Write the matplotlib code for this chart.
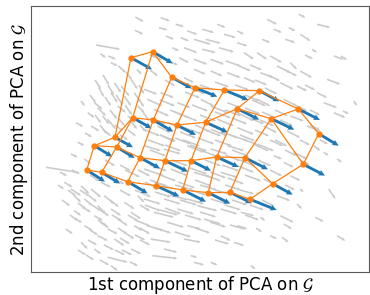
import matplotlib
matplotlib.use("Agg")
import matplotlib.pyplot as plt
import numpy as np

# ---------------- data (picture units, y grows downward) ----------------
# orange lattice nodes: 4 rows (bottom -> top) x 8 columns (left -> right)
grid_x = [
    [86.7, 101.7, 127.7, 156.0, 182.7, 208.3, 230.0, 250.0],
    [94.3, 116.7, 140.0, 165.0, 191.0, 216.7, 245.0, 272.7],
    [115.0, 132.7, 153.3, 177.0, 205.7, 237.3, 271.3, 303.3],
    [131.0, 152.7, 171.7, 195.0, 224.3, 259.3, 298.3, 318.7],
]
grid_y = [
    [170.0, 172.3, 181.7, 185.7, 190.0, 192.7, 192.3, 199.3],
    [145.7, 147.0, 157.7, 160.7, 160.7, 157.0, 157.7, 183.7],
    [137.3, 117.7, 120.0, 125.0, 122.3, 108.7, 118.7, 164.3],
    [57.7, 51.7, 77.3, 87.7, 90.0, 90.7, 109.0, 133.7],
]
# blue vectors attached to each node
node_u = [
    [18.3, 18.3, 20.0, 23.3, 23.3, 22.0, 22.0, 26.7],
    [18.0, 18.0, 20.0, 23.0, 20.0, 22.0, 23.0, 20.0],
    [18.0, 19.0, 20.0, 19.0, 22.0, 22.0, 23.0, 21.7],
    [21.0, 20.0, 20.0, 22.3, 24.0, 20.0, 21.7, 20.0],
]
node_v = [
    [11.7, 11.3, 11.7, 10.7, 11.7, 11.0, 11.0, 10.7],
    [11.0, 11.0, 10.7, 11.0, 10.0, 10.0, 11.7, 11.0],
    [10.0, 10.7, 11.7, 10.0, 10.0, 11.0, 11.0, 11.3],
    [11.7, 11.7, 11.0, 9.0, 10.0, 10.7, 11.0, 12.0],
]

# grey background vector field (positions and vectors), read region by region
field_x = [
    96.0, 100.3, 108.3, 135.3, 135.0, 111.0, 118.3, 137.0, 81.0, 76.0,
    94.3, 97.7, 102.7, 107.7, 114.3, 111.0, 121.0, 124.3, 117.7, 131.0,
    134.3, 137.7, 91.0, 102.7, 87.7, 127.7, 90, 99, 105, 115, 120, 85, 128, 140, 139, 126,
    160.7, 175.7, 159.0, 187.3, 202.3, 217.3, 224.0, 237.3, 165.7, 180.7,
    194.0, 205.7, 184.0, 202.3, 219.0, 237.3, 244.0, 172.3, 179.0, 194.0,
    210.7, 225.7, 239.0, 194.0, 210.7, 227.3, 244.0, 184.0, 144.0, 147.3,
    160.7, 154.0, 177.3, 200.7, 210.7, 227.3, 237.3, 217.3, 184.0, 157.3,
    210.7, 237.3, 150, 165, 170, 190, 195, 225, 245, 160, 180, 230, 250,
    267.0, 273.7, 288.7, 298.7, 317.0, 285.3, 300.3, 262.0, 257.0, 333.7,
    312.0, 270.3, 277.0, 290.3, 300.3, 260.3, 327.0, 280.3, 297.0, 317.0,
    323.7, 353.7, 333.7, 257.0, 283.7, 290.3, 263.7, 307.0, 287.0, 305, 265, 275, 310, 341, 343,
    46.0, 71.0, 77.7, 84.3, 64.3, 71.0, 74.3, 81.0, 84.3, 91.0,
    97.7, 94.3, 104.3, 111.0, 117.7, 124.3, 131.0, 82.7, 74.3, 84.3,
    66.0, 97.7, 107.7, 114.3, 81.0, 94.3, 107.7, 131.0, 124.3, 111.0,
    127.7, 114.3, 101.0, 137.7, 134.3, 90, 120, 100, 140, 60,
    150.7, 152.3, 164.0, 184.0, 190.7, 194.0, 210.7, 220.7, 234.0, 237.3,
    250.7, 147.3, 167.3, 187.3, 204.0, 154.0, 177.3, 197.3, 220.7, 240.7,
    144.0, 164.0, 187.3, 210.7, 144, 164, 187.3, 210.7, 227.3, 144, 170.7, 194, 220.7, 237.3, 154,
    175, 200, 225, 160, 205, 240,
    273.7, 283.7, 313.7, 323.7, 337.0, 300.3, 328.7, 297.0, 315.3, 280.3,
    283.7, 270.3, 282.0, 337.0, 260.3, 263.7, 277.0, 290.3, 293.7, 260, 275, 300, 262, 256,
]
field_y = [
    45.0, 53.7, 56.0, 17.0, 30.3, 62.7, 66.0, 69.3, 101.0, 122.7,
    102.7, 107.7, 116.0, 119.3, 82.7, 92.7, 86.0, 96.0, 106.0, 79.3,
    92.7, 106.0, 126.0, 129.3, 112.7, 116.0, 95, 88, 97, 125, 135, 133, 130, 125, 85, 72,
    17.7, 24.3, 27.7, 31.0, 29.3, 24.3, 34.3, 31.0, 36.0, 37.7,
    39.3, 39.3, 47.7, 49.3, 47.7, 42.7, 52.7, 47.7, 57.7, 59.3,
    59.3, 61.0, 66.0, 69.3, 71.0, 72.7, 77.7, 77.7, 89.3, 99.3,
    92.7, 109.3, 102.7, 99.3, 106.0, 102.7, 112.7, 119.3, 116.0, 126.0,
    129.3, 127.7, 70, 80, 110, 88, 125, 90, 95, 135, 132, 135, 118,
    19.3, 29.3, 27.7, 14.3, 24.3, 39.3, 34.3, 39.3, 52.7, 56.0,
    49.3, 56.0, 66.0, 62.7, 71.0, 72.7, 79.3, 82.7, 86.0, 92.7,
    102.7, 101.0, 112.7, 99.3, 99.3, 116.0, 126.0, 126.0, 131.0, 55, 88, 110, 110, 56, 111,
    167.3, 154.0, 142.3, 159.0, 182.3, 189.0, 195.7, 185.7, 199.0, 189.0,
    205.7, 215.7, 195.7, 209.0, 219.0, 202.3, 212.3, 207.3, 210.7, 225.7,
    229.0, 235.7, 229.0, 239.0, 242.3, 249.0, 257.3, 249.0, 232.3, 265.7,
    182.3, 179.0, 182.3, 195.7, 225.7, 175, 190, 222, 205, 172,
    239.0, 255.7, 249.0, 239.0, 255.7, 262.3, 262.3, 235.7, 242.3, 225.7,
    265.7, 225.7, 222.3, 225.7, 219.0, 212.3, 209.0, 205.7, 209.0, 212.3,
    199.0, 199.0, 199.0, 199.0, 145.7, 149, 145.7, 149, 145.7, 169, 169, 172.3, 172.3, 165.7, 182.3,
    185, 185, 185, 160, 160, 190,
    155.7, 162.3, 145.7, 152.3, 159.0, 189.0, 189.0, 204.0, 217.3, 215.7,
    224.0, 235.7, 237.3, 235.7, 217.3, 179.0, 195.7, 175.7, 152.3, 145, 140, 140, 200, 228,
]
field_u = [
    24.3, 5.7, 7.7, 8.3, 8.3, 6.7, 7.7, 4.7, 4.0, 7.3,
    8.3, 8.3, 6.7, 8.3, 6.7, 6.7, 8.3, 6.7, 8.3, 6.7,
    6.7, 6.7, 8.3, 8.3, 6.7, 8.3, 6, 5, 6, 8, 8, 7, 8, 6, 5, 6,
    9.3, 8.3, 8.3, 10.0, 11.7, 8.3, 11.7, 6.7, 8.3, 8.3,
    16.7, 15.0, 13.3, 13.3, 15.0, 10.0, 10.0, 6.7, 10.0, 13.3,
    13.3, 15.0, 11.7, 11.7, 11.7, 13.3, 11.7, 10.0, 13.3, 15.0,
    13.3, 15.0, 13.3, 13.3, 16.7, 13.3, 16.7, 16.7, 13.3, 13.3,
    16.7, 16.7, 8, 10, 14, 15, 16, 15, 14, 15, 16, 18, 14,
    10.0, 8.3, 6.7, 6.7, 13.3, 10.0, 10.0, 8.3, 10.0, 10.0,
    5.0, 11.7, 13.3, 6.7, 11.7, 13.3, 13.3, 13.3, 10.0, 10.0,
    13.3, 3.3, 11.7, 13.3, 13.3, 13.3, 13.3, 13.3, 13.3, 8, 12, 13, 10, 6, 6,
    31.7, 6.7, 6.7, 6.7, 8.3, 10.0, 6.7, 8.3, 8.3, 10.0,
    8.3, 8.3, 10.0, 10.0, 10.0, 10.0, 10.0, 8.3, 6.7, 8.3,
    6.7, 10.0, 10.0, 10.0, 6.7, 6.7, 20.0, 10.0, 10.0, 6.7,
    13.3, 10.0, 10.0, 6.7, 8.3, 9, 11, 9, 10, 7,
    20.0, 25.0, 13.3, 16.7, 6.7, 10.0, 6.7, 10.0, 10.0, 10.0,
    5.0, 16.7, 16.7, 13.3, 16.7, 20.0, 16.7, 20.0, 16.7, 13.3,
    16.7, 16.7, 16.7, 16.7, 16.7, 16.7, 16.7, 16.7, 16.7, 20, 16.7, 16.7, 16.7, 16.7, 20,
    18, 17, 16, 17, 16, 14,
    8.3, 10.0, 6.7, 5.0, 5.0, 3.3, 6.7, 5.0, 8.3, 13.3,
    8.3, 6.7, 6.7, 8.3, 5.0, 13.3, 13.3, 10.0, 13.3, 14, 12, 10, 12, 6,
]
field_v = [
    4.3, 4.0, 3.3, 4.7, 4.0, 3.3, 6.7, 5.0, 5.0, 4.0,
    6.7, 8.3, 8.3, 10.0, 10.0, 10.0, 10.0, 10.0, 6.7, 10.0,
    10.0, 6.7, 5.0, 6.7, 5.0, 6.7, 8, 9, 9, 6, 5, 4, 6, 7, 9, 8,
    3.3, 2.3, 2.3, 3.3, 3.3, 3.3, 3.3, 3.3, 3.3, 3.3,
    5.0, 4.0, 5.0, 3.3, 4.3, 3.3, 6.7, 3.3, 5.0, 5.0,
    5.0, 5.0, 5.0, 5.0, 5.0, 5.0, 5.0, 5.0, 5.0, 6.7,
    5.0, 6.7, 5.0, 6.7, 6.7, 5.0, 8.3, 6.7, 5.0, 6.7,
    6.7, 6.7, 6, 6, 6, 6, 7, 6, 6, 7, 6, 6, 6,
    5.0, 3.3, 3.3, 3.3, 3.3, 3.3, 6.7, 3.3, 6.7, 3.3,
    3.3, 6.7, 6.7, 6.7, 6.7, 5.0, 5.0, 6.7, 5.0, 5.0,
    5.0, 5.0, 5.0, 6.7, 6.7, 5.0, 6.7, 5.0, 6.7, 4, 6, 6, 5, 4, 3,
    5.0, 3.3, 3.3, 5.0, 5.0, 6.7, 6.7, 8.3, 6.7, 8.3,
    8.3, 5.0, 8.3, 6.7, 6.7, 6.7, 6.7, 5.0, 5.0, 5.0,
    5.0, 5.0, 5.0, 6.7, 6.7, 5.0, 5.0, 5.0, 6.7, 5.0,
    6.7, 5.0, 5.0, 6.7, 5.0, 6, 6, 6, 6, 4,
    3.3, 2.7, 3.3, 3.3, 1.7, 2.7, 2.7, 5.0, 3.3, 3.3,
    3.3, 5.0, 5.0, 3.3, 5.0, 5.0, 5.0, 5.0, 5.0, 3.3,
    5.0, 5.0, 5.0, 5.0, 5, 5, 6.7, 5, 5, 6.7, 6.7, 5, 5, 6.7, 6.7,
    5, 5, 5, 6, 6, 4,
    3.3, 5.0, 5.0, 3.3, 3.3, 3.3, 10.0, 5.0, 4.3, 6.7,
    5.0, 3.3, 5.0, 5.0, 3.3, 6.7, 5.0, 5.0, 6.7, 6, 6, 5, 6, 4,
]

# extra arrows of the dense band (under the lattice)
dense_x = [
    95, 103, 108, 116, 100, 110, 125, 130, 138, 95, 118, 143,
    150, 168, 185, 200, 215, 232, 245, 148, 165, 183, 198, 215, 232,
    150, 172, 190, 205, 222, 245, 155, 170, 190, 215, 232, 250, 160, 185, 210, 230,
    68, 78, 88, 100, 110, 118, 128, 140, 90, 75, 104, 122, 140, 86, 130, 145, 138, 120, 105, 72, 58,
    252, 262, 280, 295, 255, 270, 285, 300, 258, 270, 285, 310, 320, 268, 285, 250, 305,
    150, 165, 200, 215, 235, 185, 255,
    125, 135, 150, 160, 178, 195, 210, 228, 240, 145, 165, 180, 200, 225, 245, 135, 155, 175, 195, 215,
    145, 160, 175, 190, 205, 222, 240, 255, 150, 200, 225,
    160, 175, 192, 225, 245, 260,
    62, 70, 80, 92, 98, 112, 120, 135, 88, 100, 78, 115,
]
dense_y = [
    80, 75, 85, 95, 125, 110, 105, 120, 98, 115, 118, 112,
    118, 123, 128, 115, 112, 118, 140, 140, 145, 140, 138, 140, 150,
    165, 160, 168, 175, 165, 175, 192, 195, 190, 190, 200, 205, 210, 215, 222, 225,
    190, 203, 195, 210, 200, 228, 215, 228, 230, 218, 245, 250, 240, 255, 262, 182, 170, 165, 160, 170, 185,
    100, 112, 120, 105, 130, 140, 150, 160, 160, 170, 185, 125, 140, 75, 70, 65, 85,
    55, 60, 85, 82, 85, 92, 80,
    170, 190, 180, 175, 182, 180, 172, 178, 160, 205, 208, 200, 212, 205, 215, 220, 228, 232, 228, 240,
    130, 135, 138, 145, 130, 132, 135, 145, 150, 150, 155,
    100, 112, 105, 110, 108, 120,
    200, 215, 190, 205, 220, 215, 238, 235, 240, 260, 250, 250,
]
dense_u = [
    6, 6, 6, 7, 7, 7, 7, 7, 6, 6, 7, 6,
    16, 16, 17, 16, 16, 15, 16, 17, 16, 17, 16, 17, 16,
    17, 16, 17, 16, 17, 16, 16, 18, 16, 17, 15, 14, 18, 17, 16, 15,
    8, 8, 9, 9, 9, 9, 10, 10, 8, 7, 10, 10, 10, 8, 8, 12, 12, 11, 10, 8, 6,
    14, 14, 13, 12, 14, 13, 12, 10, 13, 12, 10, 10, 8, 12, 12, 12, 10,
    12, 13, 14, 14, 14, 15, 12,
    15, 16, 17, 16, 17, 16, 16, 16, 15, 16, 16, 17, 16, 16, 14, 15, 16, 16, 15, 14,
    15, 16, 16, 17, 16, 16, 15, 14, 16, 16, 16,
    15, 15, 16, 16, 15, 14,
    8, 8, 9, 9, 9, 10, 10, 10, 9, 9, 8, 10,
]
dense_v = [
    9, 10, 10, 10, 9, 9, 10, 9, 9, 8, 8, 9,
    6, 6, 6, 6, 6, 6, 6, 6, 6, 6, 6, 6, 6,
    6, 6, 6, 6, 6, 6, 5, 5, 5, 5, 5, 5, 5, 5, 5, 4,
    6, 6, 7, 6, 7, 6, 6, 6, 5, 5, 5, 5, 5, 5, 4, 6, 6, 6, 6, 4, 4,
    6, 6, 6, 6, 6, 6, 6, 5, 6, 6, 5, 5, 4, 6, 6, 5, 5,
    5, 5, 5, 5, 5, 6, 5,
    7, 7, 6, 6, 6, 6, 6, 6, 6, 6, 6, 5, 5, 5, 5, 6, 5, 5, 5, 4,
    6, 6, 6, 6, 6, 6, 6, 6, 6, 6, 6,
    6, 6, 6, 6, 6, 6,
    6, 6, 6, 6, 6, 6, 6, 5, 5, 5, 5, 5,
]

x_label = "1st component of PCA on $\\mathcal{G}$"
y_label = "2nd component of PCA on $\\mathcal{G}$"

# ---------------- drawing ----------------
fx = list(field_x) + list(dense_x)
fy = list(field_y) + list(dense_y)
fu = list(field_u) + list(dense_u)
fv = list(field_v) + list(dense_v)
n = min(len(fx), len(fy), len(fu), len(fv))
print("field lengths", len(fx), len(fy), len(fu), len(fv))

fig = plt.figure(figsize=(3.7, 2.95), dpi=100)
ax = fig.add_axes([0.0851, 0.0763, 0.9135, 0.9034])
ax.set_xlim(31.5, 369.5)
ax.set_ylim(272.5, 6.0)

ax.quiver(fx[:n], fy[:n], fu[:n], fv[:n],
          angles='xy', scale_units='xy', scale=1, color='#cbcbcb',
          width=0.0048, headwidth=2.0, headlength=2.2, headaxislength=2.0, zorder=1)

gx = np.array(grid_x)
gy = np.array(grid_y)
ax.quiver(gx.ravel(), gy.ravel(), np.array(node_u).ravel(), np.array(node_v).ravel(),
          angles='xy', scale_units='xy', scale=1, color='#1f77b4',
          width=0.0085, headwidth=2.1, headlength=2.2, headaxislength=2.0, zorder=3)

for r in range(gx.shape[0]):
    ax.plot(gx[r], gy[r], color='#ff7f0e', lw=0.9, zorder=4)
for c in range(gx.shape[1]):
    ax.plot(gx[:, c], gy[:, c], color='#ff7f0e', lw=0.9, zorder=4)
ax.plot(gx.ravel(), gy.ravel(), 'o', color='#ff7f0e', ms=3.5, zorder=5)

ax.set_xticks([])
ax.set_yticks([])
for s in ax.spines.values():
    s.set_color('0.35')
ax.set_xlabel(x_label, fontsize=12, labelpad=1)
ax.set_ylabel(y_label, fontsize=12, labelpad=1)

fig.savefig("out.png", dpi=100)
